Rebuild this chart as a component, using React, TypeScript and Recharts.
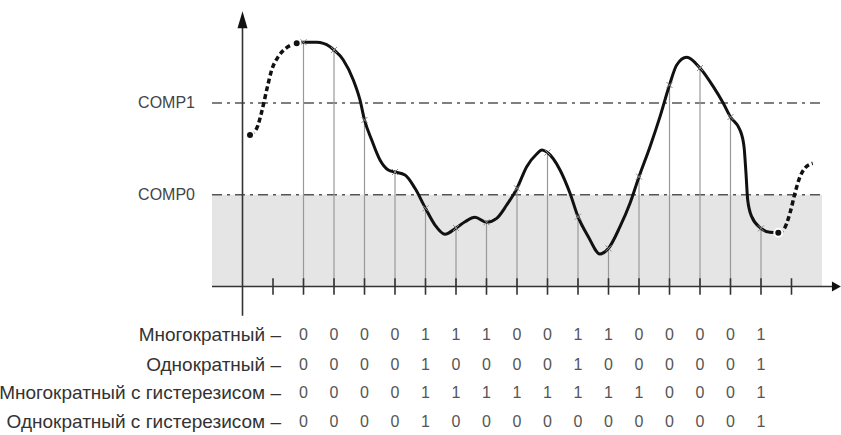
import { ComposedChart, Line, Scatter, XAxis, YAxis, ReferenceLine, ReferenceArea, ReferenceDot } from 'recharts'

// sample grid (x in sample periods, y in comparator units: COMP0 = 1, COMP1 = 2)
const TICKS = [0, 1, 2, 3, 4, 5, 6, 7, 8, 9, 10, 11, 12, 13, 14, 15, 16, 17]
const SAMPLE_X = [1, 2, 3, 4, 5, 6, 7, 8, 9, 10, 11, 12, 13, 14, 15, 16]
const SAMPLE_LEVEL = [2.662, 2.578, 1.815, 1.248, 0.852, 0.638, 0.7, 1.07, 1.46, 0.761, 0.416, 1.197, 2.196, 2.381, 1.847, 0.634]

const COMP0 = 1
const COMP1 = 2

// signal curve
const LEAD_X = [-0.754, -0.534, -0.37, -0.207, -0.043, 0.174, 0.449, 0.777]
const LEAD_Y = [1.651, 1.724, 1.905, 2.142, 2.36, 2.505, 2.603, 2.651]

const CURVE_X = [0.777, 1, 1.433, 1.869, 2, 2.305, 2.633, 2.852, 3, 3.236, 3.508, 3.78, 4, 4.328, 4.656, 5, 5.311, 5.639, 6, 6.295, 6.623, 7, 7.334, 7.662, 8, 8.318, 8.646, 8.82, 9, 9.41, 9.738, 10, 10.338, 10.721, 11, 11.377, 11.705, 12, 12.361, 12.689, 13, 13.236, 13.564, 14, 14.436, 14.764, 15, 15.311, 15.443, 15.508, 15.564, 15.695, 16, 16.295, 16.567]
const CURVE_Y = [2.651, 2.662, 2.662, 2.614, 2.578, 2.469, 2.251, 2.033, 1.815, 1.597, 1.379, 1.27, 1.248, 1.215, 1.07, 0.852, 0.67, 0.569, 0.638, 0.706, 0.754, 0.7, 0.743, 0.888, 1.07, 1.306, 1.444, 1.488, 1.46, 1.27, 1.016, 0.761, 0.543, 0.354, 0.416, 0.652, 0.907, 1.197, 1.524, 1.851, 2.196, 2.414, 2.498, 2.381, 2.178, 1.997, 1.847, 1.706, 1.524, 1.234, 0.943, 0.761, 0.634, 0.591, 0.586]

const TAIL_X = [16.567, 16.731, 16.951, 17.115, 17.279, 17.443, 17.695]
const TAIL_Y = [0.586, 0.616, 0.801, 1.019, 1.197, 1.292, 1.343]

const ROW_LABELS = [
  'Многократный –',
  'Однократный –',
  'Многократный с гистерезисом –',
  'Однократный с гистерезисом –',
]
const MULTI = [0, 0, 0, 0, 1, 1, 1, 0, 0, 1, 1, 0, 0, 0, 0, 1]
const SINGLE = [0, 0, 0, 0, 1, 0, 0, 0, 0, 1, 0, 0, 0, 0, 0, 1]
const MULTI_HYST = [0, 0, 0, 0, 1, 1, 1, 1, 1, 1, 1, 1, 0, 0, 0, 1]
const SINGLE_HYST = [0, 0, 0, 0, 1, 0, 0, 0, 0, 0, 0, 0, 0, 0, 0, 1]
const ROWS = [MULTI, SINGLE, MULTI_HYST, SINGLE_HYST]

const FONT = '"Liberation Sans", Arial, sans-serif'
const ROW_Y = [-0.528, -0.85, -1.16, -1.47]

const toPts = (xs: number[], ys: number[]) => xs.map((x, i) => ({ x, y: ys[i] }))

const textShape = (label: string, color: string, size: number) => (p: any) => (
  <text x={p.cx} y={p.cy} textAnchor="end" dominantBaseline="central"
    fontFamily={FONT} fontSize={size} fill={color}>{label}</text>
)

export default function App() {
  const lead = toPts(LEAD_X, LEAD_Y)
  const curve = toPts(CURVE_X, CURVE_Y)
  const tail = toPts(TAIL_X, TAIL_Y)
  const samples = toPts(SAMPLE_X, SAMPLE_LEVEL)

  return (
    <div style={{ position: 'absolute', left: 0, top: 0, background: '#fff' }}>
      <ComposedChart width={841} height={435} margin={{ top: 0, right: 0, bottom: 0, left: 0 }}>
        <XAxis type="number" dataKey="x" domain={[-8.951, 18.623]} hide allowDataOverflow />
        <YAxis type="number" dataKey="y" domain={[-1.6185, 3.1226]} hide allowDataOverflow />

        <ReferenceArea x1={-2} x2={18} y1={0} y2={COMP0} fill="#e5e5e5" fillOpacity={1} stroke="none" />

        {[COMP0, COMP1].map(c => (
          <ReferenceLine key={c} segment={[{ x: -2, y: c }, { x: 18, y: c }]}
            stroke="#555" strokeWidth={1.6} strokeDasharray="10 5 3 5" />
        ))}
        <ReferenceDot x={-2.557} y={COMP1} r={0} shape={textShape('COMP1', '#444', 16)} />
        <ReferenceDot x={-2.557} y={COMP0} r={0} shape={textShape('COMP0', '#444', 16)} />

        {samples.map(s => (
          <ReferenceLine key={s.x} segment={[{ x: s.x, y: 0 }, { x: s.x, y: s.y }]}
            stroke="#999" strokeWidth={1.2} />
        ))}

        {/* axes */}
        <ReferenceLine segment={[{ x: -2, y: 0 }, { x: 18.35, y: 0 }]} stroke="#333" strokeWidth={1.6} />
        <ReferenceLine segment={[{ x: -1, y: -0.32 }, { x: -1, y: 2.85 }]} stroke="#333" strokeWidth={1.6} />
        <ReferenceDot x={18.62} y={0} r={0} shape={(p: any) => (
          <polygon points={`${p.cx},${p.cy} ${p.cx - 9},${p.cy - 5} ${p.cx - 9},${p.cy + 5}`} fill="#111" />
        )} />
        <ReferenceDot x={-1} y={3.0} r={0} shape={(p: any) => (
          <polygon points={`${p.cx},${p.cy} ${p.cx - 5},${p.cy + 17} ${p.cx + 5},${p.cy + 17}`} fill="#111" />
        )} />
        {TICKS.map(t => (
          <ReferenceLine key={'t' + t} segment={[{ x: t, y: -0.09 }, { x: t, y: 0.09 }]} stroke="#333" strokeWidth={1.6} />
        ))}

        <Line data={lead} dataKey="y" type="monotone" stroke="#111" strokeWidth={3.5}
          strokeDasharray="5 3" dot={false} isAnimationActive={false} />
        <Line data={curve} dataKey="y" type="monotone" stroke="#111" strokeWidth={3}
          dot={false} isAnimationActive={false} />
        <Line data={tail} dataKey="y" type="monotone" stroke="#111" strokeWidth={3.5}
          strokeDasharray="5 3" dot={false} isAnimationActive={false} />

        <Scatter data={samples} isAnimationActive={false} shape={(p: any) => (
          <path d={`M${p.cx - 3},${p.cy - 3}L${p.cx + 3},${p.cy + 3}M${p.cx - 3},${p.cy + 3}L${p.cx + 3},${p.cy - 3}`}
            stroke="#888" strokeWidth={1} />
        )} />

        {ROWS.map((row, r) => (
          <Scatter key={'r' + r} isAnimationActive={false}
            data={row.map((v, i) => ({ x: SAMPLE_X[i], y: ROW_Y[r], v }))}
            shape={(p: any) => (
              <text x={p.cx} y={p.cy} textAnchor="middle" dominantBaseline="central"
                fontFamily={FONT} fontSize={16} fill="#555">{p.payload.v}</text>
            )} />
        ))}
        {ROW_LABELS.map((l, r) => (
          <ReferenceDot key={l} x={0.262} y={ROW_Y[r]} r={0} shape={textShape(l, '#333', 19)} />
        ))}
      </ComposedChart>
    </div>
  )
}
